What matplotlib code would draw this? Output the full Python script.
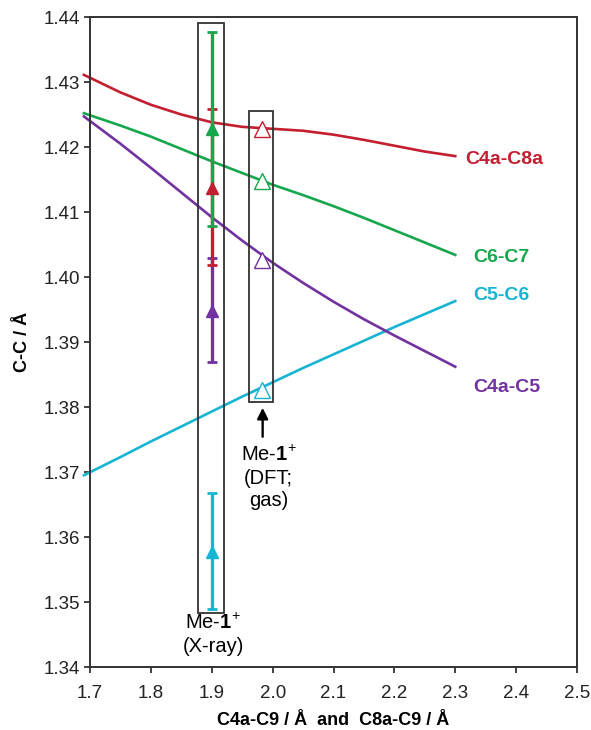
import matplotlib
matplotlib.use("Agg")
import matplotlib.pyplot as plt
from matplotlib.patches import Rectangle

plt.rcParams["font.family"] = ["Liberation Sans", "DejaVu Sans"]
plt.rcParams["mathtext.fontset"] = "custom"
plt.rcParams["mathtext.rm"] = "Liberation Sans"
plt.rcParams["mathtext.bf"] = "Liberation Sans:bold"

# calculated curves
curve_x = [1.69, 1.75, 1.80, 1.85, 1.90, 1.95, 2.00, 2.05, 2.10, 2.15, 2.20, 2.25, 2.30]
c4a_c8a = [1.4311, 1.4284, 1.4265, 1.4250, 1.4238, 1.4231, 1.4228, 1.4225, 1.4219, 1.4211, 1.4202, 1.4193, 1.4186]
c6_c7 = [1.4252, 1.4233, 1.4216, 1.4197, 1.4178, 1.4160, 1.4142, 1.4126, 1.4109, 1.4091, 1.4072, 1.4053, 1.4034]
c4a_c5 = [1.4247, 1.4205, 1.4168, 1.4130, 1.4092, 1.4056, 1.4022, 1.3991, 1.3962, 1.3935, 1.3910, 1.3886, 1.3862]
c5_c6 = [1.3695, 1.3723, 1.3747, 1.3770, 1.3793, 1.3816, 1.3838, 1.3860, 1.3881, 1.3902, 1.3923, 1.3943, 1.3963]

curve_names = ["C4a-C8a", "C6-C7", "C5-C6", "C4a-C5"]
curve_colors = ["#c41f30", "#16a64c", "#18b4d4", "#7232a0"]
label_x = [2.316, 2.329, 2.329, 2.329]
label_y = [1.4181, 1.4030, 1.3971, 1.3830]

# X-ray values with error bars
xray_x = 1.9
xray_y = [1.4137, 1.4228, 1.3577, 1.3947]       # same order as curve_names
xray_err_lo = [1.4018, 1.4078, 1.3490, 1.3869]
xray_err_hi = [1.4259, 1.4377, 1.3668, 1.4029]

# DFT (gas) values
dft_x = 1.982
dft_y = [1.4227, 1.4147, 1.3826, 1.4026]

fig = plt.figure(figsize=(5.91, 7.30), dpi=100)
ax = fig.add_axes([0.1523, 0.0863, 0.8240, 0.8904])

curves = [c4a_c8a, c6_c7, c5_c6, c4a_c5]
for ys, col in zip(curves, curve_colors):
    ax.plot(curve_x, ys, color=col, lw=1.9, clip_on=False, zorder=2,
            solid_joinstyle="round")

for name, col, lx, ly in zip(curve_names, curve_colors, label_x, label_y):
    ax.text(lx, ly, name, color=col, fontsize=14, fontweight="bold",
            va="center", ha="left")

# error bars, drawn purple -> red -> green on top, cyan separately
for i in [2, 3, 0, 1]:
    y = xray_y[i]
    ax.errorbar([xray_x], [y], yerr=[[y - xray_err_lo[i]], [xray_err_hi[i] - y]],
                fmt="^", color=curve_colors[i], ms=9, lw=2.4, capsize=3.5,
                capthick=2, zorder=4)

for y, col in zip(dft_y, curve_colors):
    ax.plot([dft_x], [y], marker="^", ms=11, mfc="white", mec=col, mew=1.0,
            ls="none", zorder=3)

# boxes around the two data sets
ax.add_patch(Rectangle((1.877, 1.3483), 0.043, 1.4391 - 1.3483, fill=False,
                       ec="#333333", lw=1.3, zorder=5))
ax.add_patch(Rectangle((1.961, 1.3808), 0.039, 1.4255 - 1.3808, fill=False,
                       ec="#333333", lw=1.3, zorder=5))

ax.annotate("", xy=(1.9836, 1.3803), xytext=(1.9836, 1.3750),
            arrowprops=dict(arrowstyle="-|>", color="black", lw=1.7,
                            mutation_scale=16))

ax.text(1.993, 1.3742, "Me-$\\mathbf{1}^{+}$\n(DFT;\ngas)", ha="center",
        va="top", fontsize=14.5, linespacing=1.25)
ax.text(1.902, 1.3483, "Me-$\\mathbf{1}^{+}$\n(X-ray)", ha="center",
        va="top", fontsize=14.5, linespacing=1.25)

ax.set_xlim(1.7, 2.5)
ax.set_ylim(1.34, 1.44)
ax.set_xticks([1.7, 1.8, 1.9, 2.0, 2.1, 2.2, 2.3, 2.4, 2.5])
ax.set_yticks([1.34, 1.35, 1.36, 1.37, 1.38, 1.39, 1.40, 1.41, 1.42, 1.43, 1.44])
ax.xaxis.set_major_formatter(plt.FormatStrFormatter("%.1f"))
ax.yaxis.set_major_formatter(plt.FormatStrFormatter("%.2f"))
ax.tick_params(labelsize=13.5, direction="out", length=4, width=1.2,
               colors="#222222")
ax.tick_params(axis="x", pad=9)
ax.tick_params(axis="y", pad=3)
for s in ax.spines.values():
    s.set_linewidth(1.4)
    s.set_color("#333333")

ax.set_xlabel("C4a-C9 / Å  and  C8a-C9 / Å", fontsize=13, fontweight="bold",
              labelpad=7)
ax.set_ylabel("C-C / Å", fontsize=13, fontweight="bold", labelpad=9)

fig.savefig("out.png", dpi=100)
